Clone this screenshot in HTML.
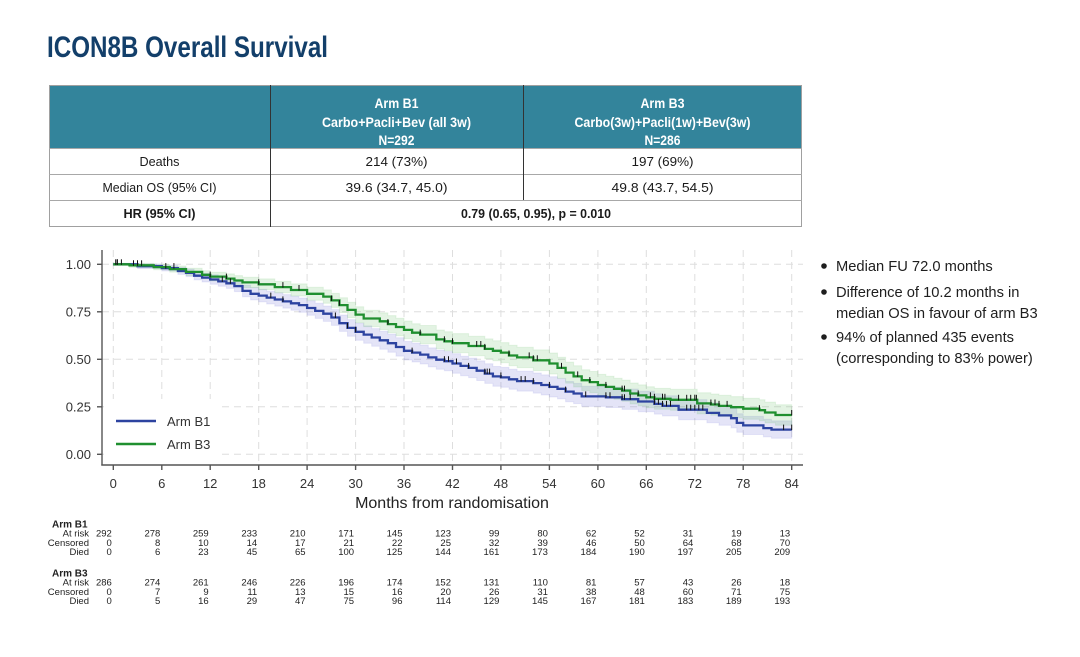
<!DOCTYPE html>
<html>
<head>
<meta charset="utf-8">
<style>
  html,body{margin:0;padding:0;background:#fff;}
  body{width:1080px;height:657px;overflow:hidden;}
  svg{display:block;font-family:"Liberation Sans",Arial,sans-serif;}
</style>
</head>
<body>
<svg id="s" width="1080" height="657" viewBox="0 0 1080 657" xmlns="http://www.w3.org/2000/svg">
  <rect width="1080" height="657" fill="#fff"/>
  <!-- Title -->
  <text x="47" y="57" font-size="30" font-weight="bold" fill="#133f6a" textLength="281" lengthAdjust="spacingAndGlyphs">ICON8B Overall Survival</text>

  <!-- Table -->
  <rect x="49" y="85" width="753" height="63" fill="#33849b"/>
  <rect x="49.5" y="85.5" width="752" height="141" fill="none" stroke="#a0a0a0" stroke-width="1"/>
  <line x1="49" y1="148.5" x2="802" y2="148.5" stroke="#a8a8a8"/>
  <line x1="49" y1="174.5" x2="802" y2="174.5" stroke="#a8a8a8"/>
  <line x1="49" y1="200.5" x2="802" y2="200.5" stroke="#a8a8a8"/>
  <line x1="270.5" y1="85" x2="270.5" y2="227" stroke="#333"/>
  <line x1="523.5" y1="85" x2="523.5" y2="200" stroke="#333"/>

  <g fill="#fff" font-size="13.5" font-weight="bold" text-anchor="middle">
    <text x="396.5" y="108" textLength="44" lengthAdjust="spacingAndGlyphs">Arm B1</text>
    <text x="396.5" y="127" textLength="149" lengthAdjust="spacingAndGlyphs">Carbo+Pacli+Bev (all 3w)</text>
    <text x="396.5" y="145" textLength="36" lengthAdjust="spacingAndGlyphs">N=292</text>
    <text x="662.5" y="108" textLength="44" lengthAdjust="spacingAndGlyphs">Arm B3</text>
    <text x="662.5" y="127" textLength="176" lengthAdjust="spacingAndGlyphs">Carbo(3w)+Pacli(1w)+Bev(3w)</text>
    <text x="662.5" y="145" textLength="36" lengthAdjust="spacingAndGlyphs">N=286</text>
  </g>
  <g fill="#1a1a1a" font-size="13" text-anchor="middle">
    <text x="159.5" y="166" textLength="40" lengthAdjust="spacingAndGlyphs">Deaths</text>
    <text x="396.5" y="166" textLength="62" lengthAdjust="spacingAndGlyphs">214 (73%)</text>
    <text x="662.5" y="166" textLength="62" lengthAdjust="spacingAndGlyphs">197 (69%)</text>
    <text x="159.5" y="192" textLength="114" lengthAdjust="spacingAndGlyphs">Median OS (95% CI)</text>
    <text x="396.5" y="192" textLength="102" lengthAdjust="spacingAndGlyphs">39.6 (34.7, 45.0)</text>
    <text x="662.5" y="192" textLength="102" lengthAdjust="spacingAndGlyphs">49.8 (43.7, 54.5)</text>
    <text x="159.5" y="218" font-weight="bold" textLength="72" lengthAdjust="spacingAndGlyphs">HR (95% CI)</text>
    <text x="536" y="218" font-weight="bold" textLength="150" lengthAdjust="spacingAndGlyphs">0.79 (0.65, 0.95), p = 0.010</text>
  </g>

  <!-- Chart groups -->
  <g id="grid" stroke="#dedede" stroke-width="1" stroke-dasharray="7,5"></g>
  <g id="bands"></g>
  <g id="lines" fill="none" stroke-width="2.3"></g>
  <g id="ticks" stroke="#111" stroke-width="1"></g>

  <!-- legend -->
  <rect x="104" y="399" width="118" height="62" fill="#fff"/>
  <line x1="116" y1="421" x2="156" y2="421" stroke="#2d43a0" stroke-width="2.5"/>
  <line x1="116" y1="444" x2="156" y2="444" stroke="#1f8f2f" stroke-width="2.5"/>
  <text x="167" y="426" font-size="13" fill="#333">Arm B1</text>
  <text x="167" y="449" font-size="13" fill="#333">Arm B3</text>

  <!-- axes -->
  <g id="axes" stroke="#555" stroke-width="1.4"></g>
  <g id="ylab" font-size="13" fill="#333" text-anchor="end">
    <text x="91" y="269">1.00</text>
    <text x="91" y="316.5">0.75</text>
    <text x="91" y="364">0.50</text>
    <text x="91" y="411.5">0.25</text>
    <text x="91" y="459">0.00</text>
  </g>
  <g id="xlab" font-size="13" fill="#333" text-anchor="middle"></g>
  <text x="452" y="508" font-size="16" fill="#222" text-anchor="middle">Months from randomisation</text>

  <!-- risk table -->
  <g id="risk" font-size="9.5" fill="#222"></g>

  <!-- bullets -->
  <g fill="#1e1e1e" font-size="14.7">
    <circle cx="824" cy="266" r="2.8"/>
    <circle cx="824" cy="292" r="2.8"/>
    <circle cx="824" cy="337" r="2.8"/>
    <text x="836" y="271">Median FU 72.0 months</text>
    <text x="836" y="297">Difference of 10.2 months in</text>
    <text x="836" y="318">median OS in favour of arm B3</text>
    <text x="836" y="342">94% of planned 435 events</text>
    <text x="836" y="363">(corresponding to 83% power)</text>
  </g>
</svg>
<script>
(function(){
  var NS="http://www.w3.org/2000/svg";
  function el(tag, attrs, parent, txt){
    var e=document.createElementNS(NS,tag);
    for(var k in attrs) e.setAttribute(k, attrs[k]);
    if(txt!==undefined) e.textContent=txt;
    document.getElementById(parent).appendChild(e);
    return e;
  }
  function X(m){return 113.3+m*8.076;}
  function Y(s){return 454.3-s*190;}

  // grid
  for(var m=0;m<=84;m+=6){
    el('line',{x1:X(m).toFixed(1),y1:250,x2:X(m).toFixed(1),y2:465},'grid');
  }
  for(var i=0;i<=4;i++){
    var y=Y(i*0.25).toFixed(1);
    el('line',{x1:102,y1:y,x2:803,y2:y},'grid');
  }

  var B3=[[0,1],[2,0.995],[5,0.985],[7,0.975],[9,0.96],[11,0.945],[12,0.935],[14,0.925],[15,0.915],[16,0.905],[18,0.895],[20,0.88],[22,0.865],[24,0.845],[26,0.83],[27,0.81],[28,0.785],[29,0.76],[30,0.735],[31,0.715],[33,0.7],[34,0.685],[35,0.67],[36,0.655],[37,0.64],[38,0.63],[40,0.605],[41,0.595],[42,0.585],[44,0.57],[46,0.555],[47,0.545],[48,0.535],[49,0.52],[50,0.51],[52,0.495],[54,0.478],[55,0.455],[56,0.43],[57,0.41],[58,0.39],[59,0.38],[60,0.365],[61,0.355],[62,0.345],[63,0.335],[64,0.32],[65,0.31],[66,0.3],[67,0.292],[69,0.287],[72.3,0.268],[74,0.262],[75,0.255],[76.5,0.248],[78,0.24],[80,0.232],[80.7,0.22],[82,0.207]];
  var B1=[[0,1],[3,0.99],[6,0.98],[8,0.965],[9,0.955],[10,0.94],[11,0.93],[12,0.92],[13,0.91],[14,0.9],[15,0.885],[16,0.86],[17,0.845],[18,0.835],[19,0.825],[20,0.815],[21,0.805],[22,0.795],[23,0.785],[24,0.77],[25,0.755],[26,0.74],[27,0.72],[28,0.69],[29,0.665],[30,0.645],[31,0.63],[32,0.615],[33,0.6],[34,0.585],[35,0.565],[36,0.545],[37,0.535],[38,0.525],[39,0.51],[40,0.498],[41,0.49],[42,0.478],[43,0.465],[44,0.455],[45,0.44],[46,0.425],[47,0.41],[48,0.405],[49,0.395],[50,0.385],[52,0.375],[53,0.365],[54,0.355],[55,0.345],[56,0.33],[57,0.32],[58,0.305],[61,0.3],[63,0.29],[65,0.278],[67,0.265],[68,0.255],[70,0.235],[73.5,0.218],[75,0.205],[76.5,0.19],[77.2,0.165],[78,0.152],[80.5,0.138],[81.5,0.13]];

  function stepPath(p,end){
    var d='M'+X(p[0][0]).toFixed(1)+','+Y(p[0][1]).toFixed(1);
    for(var i=1;i<p.length;i++){
      d+='H'+X(p[i][0]).toFixed(1)+'V'+Y(p[i][1]).toFixed(1);
    }
    d+='H'+X(end).toFixed(1);
    return d;
  }
  function w(m,s){return 0.006+0.1*Math.sqrt(Math.max(0,s*(1-s)))*(0.6+0.6*m/84);}
  function band(p,end){
    var up=[],lo=[];
    for(var i=0;i<p.length;i++){
      var m=p[i][0], s=p[i][1], m2=(i+1<p.length)?p[i+1][0]:end;
      var ww=w(m,s);
      var u=Math.min(1.005,s+ww), l=s-ww;
      up.push([X(m),Y(u)],[X(m2),Y(u)]);
      lo.push([X(m),Y(l)],[X(m2),Y(l)]);
    }
    var all=up.concat(lo.reverse());
    return 'M'+all.map(function(q){return q[0].toFixed(1)+','+q[1].toFixed(1);}).join('L')+'Z';
  }
  function sAt(p,m){var s=p[0][1];for(var i=0;i<p.length;i++){if(p[i][0]<=m)s=p[i][1];else break;}return s;}

  el('path',{d:band(B1,84),fill:'rgba(95,95,210,0.17)',stroke:'rgba(95,95,210,0.12)','stroke-width':1},'bands');
  el('path',{d:band(B3,84),fill:'rgba(80,180,80,0.16)',stroke:'rgba(80,180,80,0.12)','stroke-width':1},'bands');
  el('path',{d:stepPath(B1,84),stroke:'#2d43a0'},'lines');
  el('path',{d:stepPath(B3,84),stroke:'#1f8f2f'},'lines');

  var t3=[0.3,0.5,2.5,3,3.5,12,14,18,21,23,27,28,34,38,41,42,45,45.5,46,49,51.5,52,52.5,55.5,57.5,59,61,63,63.3,65,66.5,67,68,68.3,70,71,71.5,72,72.2,74,74.5,75,76,80,84];
  var t1=[0.5,1,6.5,7.5,13.5,14.5,19.5,21,27.5,29,30,37,41,41.5,42.5,44,46,46.3,46.6,48,50.5,51,52,54,56,58.5,61,61.5,63,63.3,64,67,67.5,68,68.5,69,71,71.5,72,72.5,73,83,84];
  function ticks(list,p){
    list.forEach(function(m){
      var x=X(m).toFixed(1), y=Y(sAt(p,m));
      el('line',{x1:x,y1:(y-5).toFixed(1),x2:x,y2:(y+0.5).toFixed(1)},'ticks');
    });
  }
  ticks(t1,B1); ticks(t3,B3);

  // axes
  el('line',{x1:102,y1:250,x2:102,y2:465.5},'axes');
  el('line',{x1:101.3,y1:465,x2:803,y2:465},'axes');
  for(var i=0;i<=4;i++){
    var y=Y(i*0.25).toFixed(1);
    el('line',{x1:97,y1:y,x2:102,y2:y},'axes');
  }
  for(var m=0;m<=84;m+=6){
    var x=X(m).toFixed(1);
    el('line',{x1:x,y1:465,x2:x,y2:470},'axes');
    el('text',{x:x,y:488},'xlab',String(m));
  }

  // risk table
  var r1=[[292,278,259,233,210,171,145,123,99,80,62,52,31,19,13],
          [0,8,10,14,17,21,22,25,32,39,46,50,64,68,70],
          [0,6,23,45,65,100,125,144,161,173,184,190,197,205,209]];
  var r3=[[286,274,261,246,226,196,174,152,131,110,81,57,43,26,18],
          [0,7,9,11,13,15,16,20,26,31,38,48,60,71,75],
          [0,5,16,29,47,75,96,114,129,145,167,181,183,189,193]];
  var labels=['At risk','Censored','Died'];
  function block(title,rows,y0){
    el('text',{x:52,y:y0,'font-weight':'bold','font-size':'10'},'risk',title);
    for(var r=0;r<3;r++){
      var y=y0+9.2*(r+1);
      el('text',{x:89,y:y.toFixed(1),'text-anchor':'end'},'risk',labels[r]);
      for(var c=0;c<15;c++){
        el('text',{x:(X(c*6)-1.5).toFixed(1),y:y.toFixed(1),'text-anchor':'end'},'risk',String(rows[r][c]));
      }
    }
  }
  block('Arm B1',r1,527.5);
  block('Arm B3',r3,576.5);
})();
</script>
</body>
</html>
